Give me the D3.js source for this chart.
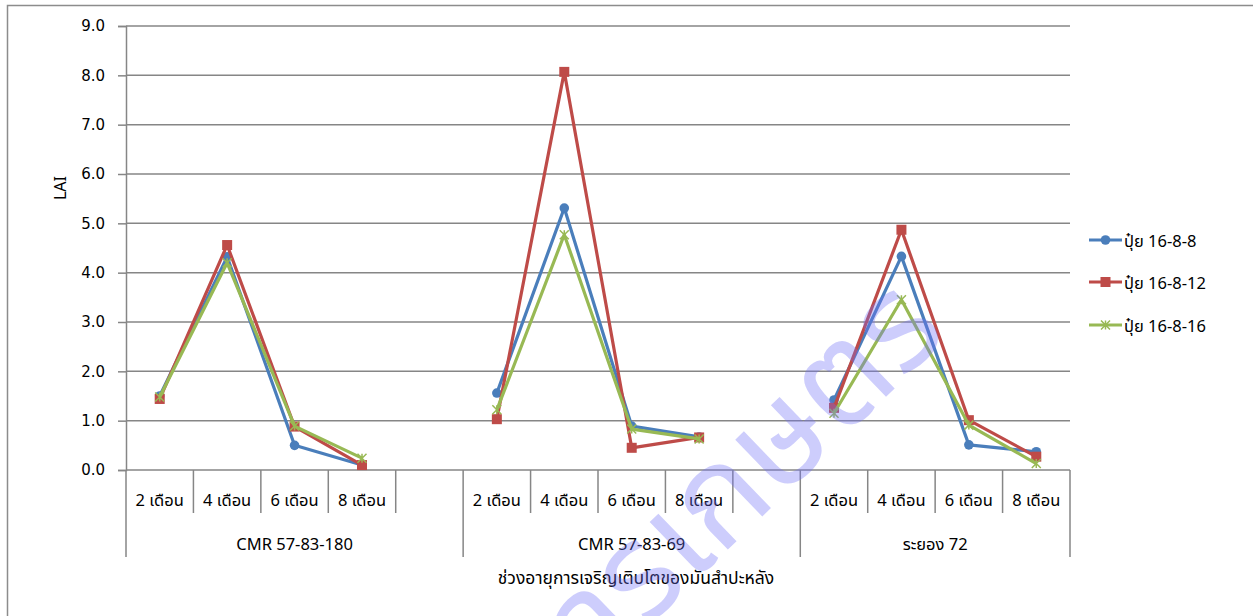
<!DOCTYPE html>
<html>
<head>
<meta charset="utf-8">
<script src="https://cdn.jsdelivr.net/npm/d3@7"></script>
<style>
  body { margin: 0; background: #fff; }
  svg { display: block; font-family: Tahoma, "Noto Sans Thai", "Noto Sans", "DejaVu Sans", sans-serif; }
</style>
</head>
<body>
<svg id="chart"></svg>
<script>
const groups = ["CMR 57-83-180", "CMR 57-83-69", "ระยอง 72"];
const months = ["2 เดือน", "4 เดือน", "6 เดือน", "8 เดือน"];
const seriesNames = ["ปุ๋ย 16-8-8", "ปุ๋ย 16-8-12", "ปุ๋ย 16-8-16"];
const yTicks = [0, 1, 2, 3, 4, 5, 6, 7, 8, 9];

// LAI per group, per month
const lai_16_8_8  = [[1.50, 4.32, 0.50, 0.10], [1.56, 5.31, 0.89, 0.67], [1.42, 4.33, 0.51, 0.37]];
const lai_16_8_12 = [[1.44, 4.56, 0.88, 0.10], [1.03, 8.07, 0.45, 0.66], [1.26, 4.87, 1.01, 0.27]];
const lai_16_8_16 = [[1.48, 4.20, 0.89, 0.24], [1.22, 4.77, 0.83, 0.63], [1.15, 3.45, 0.91, 0.13]];

const colors = ["#4A7EBB", "#BE4B48", "#98B954"];
const allSeries = [lai_16_8_8, lai_16_8_12, lai_16_8_16];

const width = 1253, height = 616;
const svg = d3.select("#chart").attr("width", width).attr("height", height);

// chart border (runs off the right/bottom edge like the screenshot)
svg.append("rect")
  .attr("x", 7.5).attr("y", 5.5)
  .attr("width", 1260).attr("height", 640)
  .attr("fill", "none").attr("stroke", "#8c8c8c").attr("stroke-width", 1.5);

// slots: groups 1 & 2 carry an empty category after 8 เดือน
let slots = [];
groups.forEach((g, gi) => {
  months.forEach((m, mi) => slots.push({key: gi + "-" + mi, group: gi, label: m}));
  if (gi < 2) slots.push({key: gi + "-blank", group: gi, label: ""});
});

const x = d3.scaleBand().domain(slots.map(s => s.key)).range([126, 1070]).padding(0);
const y = d3.scaleLinear().domain([0, 9]).range([470, 26]);

const grid = "#868686";

// gridlines
svg.append("g").selectAll("line")
  .data(yTicks.filter(t => t > 0))
  .enter().append("line")
  .attr("x1", 126).attr("x2", 1070)
  .attr("y1", d => y(d)).attr("y2", d => y(d))
  .attr("stroke", grid).attr("stroke-width", 1.5);

// y axis
const yAxis = svg.append("g").attr("transform", "translate(126,0)")
  .call(d3.axisLeft(y).tickValues(yTicks).tickFormat(d3.format(".1f")).tickSize(8).tickPadding(13));
yAxis.select(".domain").attr("stroke", grid).attr("stroke-width", 1.5);
yAxis.selectAll(".tick line").attr("stroke", grid).attr("stroke-width", 1.5);
yAxis.selectAll(".tick text").attr("font-size", 15).attr("fill", "#000")
  .attr("font-family", "Tahoma, 'DejaVu Sans', sans-serif");

// extend y axis line down through the label rows
svg.append("line").attr("x1", 126).attr("x2", 126).attr("y1", 470).attr("y2", 557)
  .attr("stroke", grid).attr("stroke-width", 1.5);

// x axis baseline
svg.append("line").attr("x1", 126).attr("x2", 1070).attr("y1", 470).attr("y2", 470)
  .attr("stroke", grid).attr("stroke-width", 1.5);

// slot separators
svg.append("g").selectAll("line")
  .data(slots.slice(1))
  .enter().append("line")
  .attr("x1", d => x(d.key)).attr("x2", d => x(d.key))
  .attr("y1", 470)
  .attr("y2", (d, i) => d.group !== slots[i].group ? 557 : 513)
  .attr("stroke", grid).attr("stroke-width", 1.5);
svg.append("line").attr("x1", 1070).attr("x2", 1070).attr("y1", 470).attr("y2", 557)
  .attr("stroke", grid).attr("stroke-width", 1.5);

// month labels
svg.append("g").selectAll("text")
  .data(slots.filter(s => s.label))
  .enter().append("text")
  .attr("x", d => x(d.key) + x.bandwidth() / 2)
  .attr("y", 500)
  .attr("text-anchor", "middle").attr("dominant-baseline", "central")
  .attr("font-size", 16.5)
  .text(d => d.label);

// group labels
svg.append("g").selectAll("text")
  .data(groups)
  .enter().append("text")
  .attr("x", (g, gi) => {
    const ks = slots.filter(s => s.group === gi);
    return (x(ks[0].key) + x(ks[ks.length - 1].key) + x.bandwidth()) / 2;
  })
  .attr("y", 544)
  .attr("text-anchor", "middle").attr("dominant-baseline", "central")
  .attr("font-size", 16.5)
  .text(d => d);

// axis titles
svg.append("text")
  .attr("x", 636).attr("y", 578)
  .attr("text-anchor", "middle").attr("dominant-baseline", "central")
  .attr("font-size", 17.5)
  .text("ช่วงอายุการเจริญเติบโตของมันสำปะหลัง");

svg.append("text")
  .attr("transform", "translate(61,188) rotate(-90)")
  .attr("text-anchor", "middle").attr("dominant-baseline", "central")
  .attr("font-size", 16)
  .text("LAI");

// markers
function drawMarker(sel, si, cx, cy) {
  const c = colors[si];
  if (si === 0) {
    sel.append("circle").attr("cx", cx).attr("cy", cy).attr("r", 4.8).attr("fill", c);
  } else if (si === 1) {
    sel.append("rect").attr("x", cx - 5).attr("y", cy - 5)
      .attr("width", 10).attr("height", 10).attr("fill", c);
  } else {
    const s = 4.5;
    sel.append("path")
      .attr("d", `M${cx - s},${cy - s}L${cx + s},${cy + s}M${cx - s},${cy + s}L${cx + s},${cy - s}M${cx},${cy - s}L${cx},${cy + s}`)
      .attr("stroke", c).attr("stroke-width", 1.5).attr("fill", "none");
  }
}

const line = d3.line().x(d => d[0]).y(d => d[1]);

allSeries.forEach((series, si) => {
  const g = svg.append("g");
  series.forEach((vals, gi) => {
    const pts = vals.map((v, mi) => [x(gi + "-" + mi) + x.bandwidth() / 2, y(v)]);
    g.append("path").attr("d", line(pts))
      .attr("fill", "none").attr("stroke", colors[si]).attr("stroke-width", 3.2)
      .attr("stroke-linejoin", "round");
    pts.forEach(p => drawMarker(g, si, p[0], p[1]));
  });
});

// legend
const legendY = [240, 282, 325];
seriesNames.forEach((name, si) => {
  const g = svg.append("g");
  g.append("line").attr("x1", 1089).attr("x2", 1122)
    .attr("y1", legendY[si]).attr("y2", legendY[si])
    .attr("stroke", colors[si]).attr("stroke-width", 3.2);
  drawMarker(g, si, 1105.5, legendY[si]);
  g.append("text").attr("x", 1124).attr("y", legendY[si] + 1)
    .attr("dominant-baseline", "central").attr("font-size", 16.5)
    .text(name);
});

// watermark
svg.append("text")
  .attr("transform", "translate(950,335) rotate(-44)")
  .attr("text-anchor", "end")
  .attr("font-size", 135)
  .attr("fill", "#6f6ff5").attr("fill-opacity", 0.35)
  .text("การเกษตร");
</script>
</body>
</html>
